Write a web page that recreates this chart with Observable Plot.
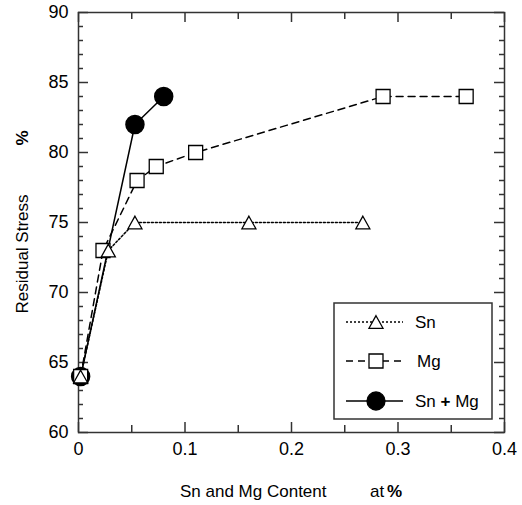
<!DOCTYPE html>
<html><head><meta charset="utf-8">
<script src="https://cdn.jsdelivr.net/npm/d3@7"></script>
<script src="https://cdn.jsdelivr.net/npm/@observablehq/plot@0.6"></script>
<style>
body{margin:0;background:#fff;}
#wrap{position:relative;width:522px;height:505px;}
</style>
</head><body><div id="wrap"></div>
<script>
// ---- data ----
const snX = [0.002, 0.028, 0.053, 0.160, 0.267];
const snY = [64, 73, 75, 75, 75];
const mgX = [0.002, 0.023, 0.055, 0.073, 0.110, 0.286, 0.364];
const mgY = [64, 73, 78, 79, 80, 84, 84];
const snmgX = [0.002, 0.053, 0.080];
const snmgY = [64, 82, 84];
const seriesNames = ["Sn", "Mg", "Sn + Mg"];
const xTicks = [0, 0.1, 0.2, 0.3, 0.4];
const xTickLabels = ["0", "0.1", "0.2", "0.3", "0.4"];
const xMinor = [0.05, 0.15, 0.25, 0.35];
const yTicks = [60, 65, 70, 75, 80, 85, 90];
const yTickLabels = ["60", "65", "70", "75", "80", "85", "90"];
const yMinor = [61,62,63,64,66,67,68,69,71,72,73,74,76,77,78,79,81,82,83,84,86,87,88,89];
const xLabel = "Sn and Mg Content";
const xUnitA = "at";
const xUnitB = "%";
const yLabel = "Residual Stress";
const yUnit = "%";

const toPts = (xs, ys) => xs.map((x, i) => ({x, y: ys[i]}));
const sn = toPts(snX, snY), mg = toPts(mgX, mgY), snmg = toPts(snmgX, snmgY);

// ---- layout ----
const W = 522, H = 505, mL = 78, mR = 18, mT = 12, mB = 73;
const iw = W - mL - mR, ih = H - mT - mB;
const FONT = "'Liberation Sans', Arial, sans-serif";
const AX = "#333";
const triSym = {draw(ctx, size){ const r = Math.sqrt(size/Math.PI); ctx.moveTo(0, -0.9*r); ctx.lineTo(r, 0.9*r); ctx.lineTo(-r, 0.9*r); ctx.closePath(); }};

const plot = Plot.plot({
  width: W, height: H,
  marginLeft: mL, marginRight: mR, marginTop: mT, marginBottom: mB,
  style: {fontFamily: FONT, fontSize: "18px", color: "#000", background: "#fff"},
  x: {domain: [0, 0.4]},
  y: {domain: [60, 90]},
  marks: [
    // ticks (inward)
    Plot.tickY(yTicks, {y: d => d, insetRight: iw - 10, stroke: AX, strokeWidth: 1.5}),
    Plot.tickY(yTicks, {y: d => d, insetLeft: iw - 10, stroke: AX, strokeWidth: 1.5}),
    Plot.tickY(yMinor, {y: d => d, insetRight: iw - 5, stroke: AX, strokeWidth: 1.5}),
    Plot.tickY(yMinor, {y: d => d, insetLeft: iw - 5, stroke: AX, strokeWidth: 1.5}),
    Plot.tickX(xTicks, {x: d => d, insetTop: ih - 10, stroke: AX, strokeWidth: 1.5}),
    Plot.tickX(xTicks, {x: d => d, insetBottom: ih - 10, stroke: AX, strokeWidth: 1.5}),
    Plot.tickX(xMinor, {x: d => d, insetTop: ih - 7, stroke: AX, strokeWidth: 1.5}),
    Plot.tickX(xMinor, {x: d => d, insetBottom: ih - 7, stroke: AX, strokeWidth: 1.5}),
    Plot.frame({stroke: AX, strokeWidth: 1.5}),
    Plot.axisX({ticks: xTicks, tickSize: 0, tickPadding: 10, tickFormat: d => xTickLabels[xTicks.indexOf(d)], label: null}),
    Plot.axisY({ticks: yTicks, tickSize: 0, tickPadding: 10, tickFormat: d => yTickLabels[yTicks.indexOf(d)], label: null}),
    // lines
    Plot.line(sn, {x: "x", y: "y", stroke: "#000", strokeWidth: 1.5, strokeDasharray: "2,2"}),
    Plot.line(mg, {x: "x", y: "y", stroke: "#000", strokeWidth: 1.5, strokeDasharray: "7,5"}),
    Plot.line(snmg, {x: "x", y: "y", stroke: "#000", strokeWidth: 1.5}),
    // markers
    Plot.dot(snmg, {x: "x", y: "y", r: 9, fill: "#000", stroke: "#000", symbol: "circle"}),
    Plot.dot(mg, {x: "x", y: "y", r: 7.9, fill: "#fff", stroke: "#000", strokeWidth: 1.3, symbol: "square"}),
    Plot.dot(sn, {x: "x", y: "y", r: 7, fill: "#fff", stroke: "#000", strokeWidth: 1.3, symbol: triSym})
  ]
});
document.getElementById("wrap").appendChild(plot);

const svg = d3.select(plot);
const txt = (parent) => parent.append("text").attr("font-family", FONT).attr("font-size", 17).attr("fill", "#000").attr("text-anchor", "start");
// axis titles
txt(svg).attr("x", 180).attr("y", 497).text(xLabel);
txt(svg).attr("x", 370).attr("y", 497).text(xUnitA);
txt(svg).attr("x", 387).attr("y", 497).attr("font-weight", "bold").text(xUnitB);
txt(svg).attr("transform", "translate(28,254) rotate(-90)").attr("text-anchor", "middle").text(yLabel);
txt(svg).attr("transform", "translate(28,138) rotate(-90)").attr("text-anchor", "middle").attr("font-weight", "bold").text(yUnit);

// legend
const lg = svg.append("g");
lg.append("rect").attr("x", 334).attr("y", 303).attr("width", 158).attr("height", 116).attr("fill", "#fff").attr("stroke", AX).attr("stroke-width", 1.5);
const legendRows = [
  {name: seriesNames[0], y: 322, dash: "2,2", sym: triSym, size: Math.PI*49, fill: "#fff"},
  {name: seriesNames[1], y: 361, dash: "7,5", sym: d3.symbolSquare, size: Math.PI*7.9*7.9, fill: "#fff"},
  {name: seriesNames[2], y: 401, dash: null, sym: d3.symbolCircle, size: Math.PI*81, fill: "#000"}
];
legendRows.forEach((r, i) => {
  lg.append("line").attr("x1", 346).attr("x2", 403).attr("y1", r.y).attr("y2", r.y).attr("stroke", "#000").attr("stroke-width", 1.5).attr("stroke-dasharray", r.dash);
  lg.append("path").attr("transform", `translate(376,${r.y})`).attr("d", d3.symbol(r.sym, r.size)()).attr("fill", r.fill).attr("stroke", "#000").attr("stroke-width", 1.3);
  const t = txt(lg).attr("x", i === 1 ? 417 : 415).attr("y", r.y + 6);
  if (i === 2) {
    t.append("tspan").text("Sn ");
    t.append("tspan").attr("font-weight", "bold").text("+");
    t.append("tspan").text(" Mg");
  } else t.text(r.name);
});
</script>
</body></html>
